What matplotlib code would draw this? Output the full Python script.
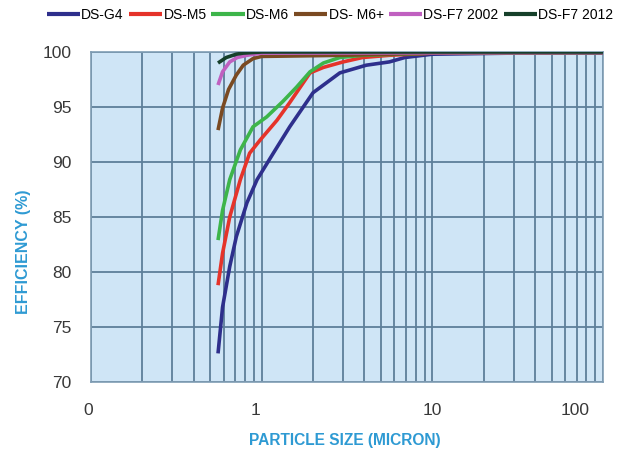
import matplotlib
matplotlib.use("Agg")
import matplotlib.pyplot as plt
import matplotlib.transforms as mtransforms
from matplotlib.ticker import FixedLocator, NullFormatter

plt.rcParams['font.family'] = ['Liberation Sans', 'DejaVu Sans']

# Particle size (micron) and fractional efficiency (%) per filter class
g4_x = [0.555, 0.59, 0.65, 0.71, 0.82, 0.94, 1.17, 1.46, 2.0, 2.87, 4.1, 5.6, 6.9, 10, 30, 100]
g4_y = [72.6, 76.8, 80.5, 83.2, 86.3, 88.4, 90.8, 93.2, 96.3, 98.1, 98.8, 99.1, 99.5, 99.8, 99.9, 99.9]

m5_x = [0.555, 0.59, 0.65, 0.75, 0.85, 0.98, 1.23, 1.46, 1.92, 2.3, 3.0, 3.9, 5.6, 10, 100]
m5_y = [78.8, 81.7, 85.0, 88.4, 90.8, 92.0, 93.8, 95.4, 98.1, 98.6, 99.1, 99.5, 99.7, 99.9, 99.95]

m6_x = [0.555, 0.59, 0.65, 0.75, 0.89, 1.07, 1.33, 1.6, 1.92, 2.3, 2.87, 3.9, 10, 100]
m6_y = [82.9, 85.6, 88.4, 91.1, 93.2, 94.1, 95.5, 96.8, 98.2, 99.0, 99.5, 99.7, 99.9, 99.95]

m6p_x = [0.555, 0.59, 0.64, 0.71, 0.78, 0.89, 1.0, 3.0, 10, 100]
m6p_y = [92.9, 94.9, 96.6, 97.9, 98.8, 99.4, 99.6, 99.7, 99.9, 99.95]

f7a_x = [0.555, 0.59, 0.65, 0.72, 0.82, 1.0, 100]
f7a_y = [97.0, 98.2, 99.1, 99.5, 99.7, 99.9, 99.95]

f7b_x = [0.555, 0.62, 0.71, 0.78, 1.0, 100]
f7b_y = [99.0, 99.5, 99.8, 99.9, 100.0, 100.0]

series = [
    ("DS-G4", g4_x, g4_y, "#2e2f8c"),
    ("DS-M5", m5_x, m5_y, "#e5332a"),
    ("DS-M6", m6_x, m6_y, "#3db54a"),
    ("DS- M6+", m6p_x, m6p_y, "#7a4a22"),
    ("DS-F7 2002", f7a_x, f7a_y, "#c060c0"),
    ("DS-F7 2012", f7b_x, f7b_y, "#16402a"),
]

x_ticks = [0.1, 1, 10, 100]
x_ticklabels = ["0", "1", "10", "100"]
y_ticks = [70, 75, 80, 85, 90, 95, 100]

fig = plt.figure(figsize=(6.26, 4.55), dpi=100)
ax = fig.add_axes([91 / 626, 1 - 382 / 455, (603 - 91) / 626, (382 - 52) / 455])
ax.set_facecolor("#cfe5f6")

for name, xs, ys, c in series:
    ax.plot(xs, ys, color=c, lw=2.6, label=name, solid_capstyle="butt", zorder=3)

ax.set_xscale("log")
ax.set_xlim(0.1, 100)
ax.set_ylim(70, 100)

grid_col = "#5d7f9a"
minor = [m * 10.0 ** e for e in (-1, 0, 1) for m in range(2, 10)]
ax.xaxis.set_minor_locator(FixedLocator(minor))
ax.xaxis.set_minor_formatter(NullFormatter())
ax.set_xticks(x_ticks)
ax.set_xticklabels(x_ticklabels)
ax.set_yticks(y_ticks)
ax.grid(True, which="both", axis="x", color=grid_col, lw=1.3, zorder=1)
ax.grid(True, which="major", axis="y", color=grid_col, lw=1.3, zorder=1)
ax.set_axisbelow(True)
ax.tick_params(which="both", length=0)
ax.tick_params(axis="x", pad=15, labelsize=12.5, labelcolor="#383838")
ax.tick_params(axis="y", pad=14, labelsize=12.5, labelcolor="#383838")

# nudge the "1" and "100" labels as printed
labs = ax.get_xticklabels()
for lab, dx in zip(labs, [-3, -6, 0, -28]):
    lab.set_transform(lab.get_transform() + mtransforms.ScaledTranslation(dx / 100, 0, fig.dpi_scale_trans))

for s in ax.spines.values():
    s.set_color("#7f9db4")
    s.set_linewidth(1.2)

lbl_col = "#2e9ad3"
fig.text(345 / 626, 1 - 440 / 455, "PARTICLE SIZE (MICRON)", ha="center", va="center",
         color=lbl_col, fontsize=11.2, fontweight="bold")
fig.text(24 / 626, 1 - 252 / 455, "EFFICIENCY (%)", ha="center", va="center", rotation=90,
         color=lbl_col, fontsize=11.5, fontweight="bold")

fig.legend(loc="center", bbox_to_anchor=(330 / 626, 1 - 15 / 455), ncol=6, frameon=False,
           handlelength=2.4, handletextpad=0.1, columnspacing=0.35,
           prop={"family": ["Liberation Sans Narrow", "Liberation Sans"], "size": 10})
for h in fig.legends[0].get_lines():
    h.set_linewidth(3)

fig.savefig("out.png", dpi=100)
